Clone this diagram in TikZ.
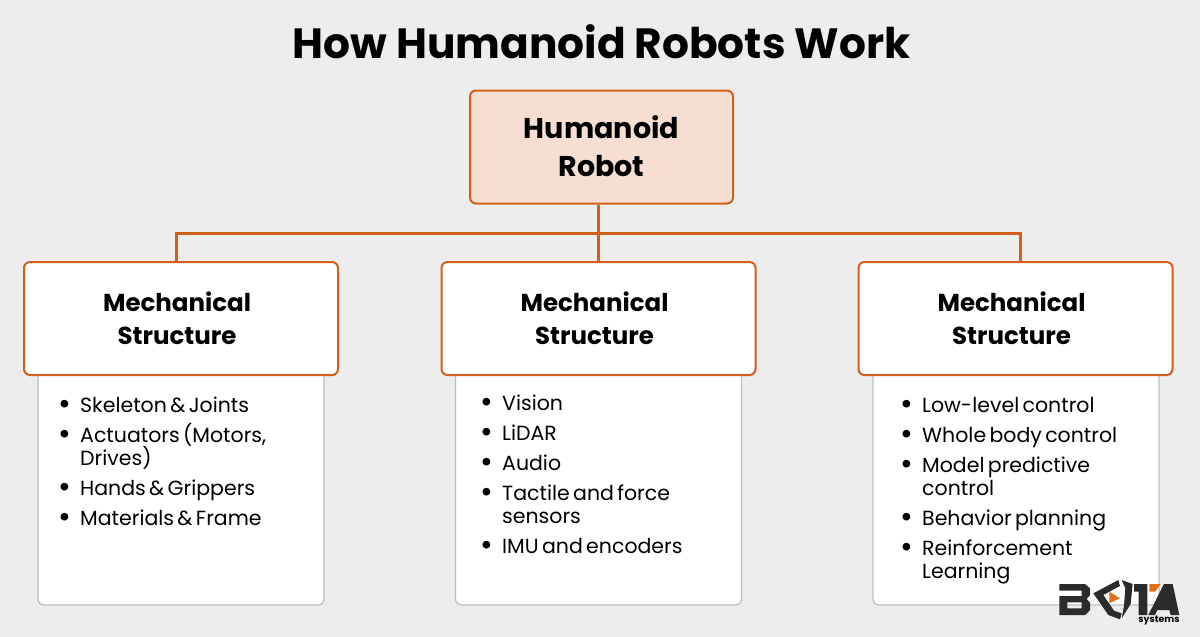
\documentclass[tikz,border=0pt]{standalone}
\usepackage{xcolor}
\usepackage{fontspec}
\setmainfont{Poppins}
\definecolor{pagegray}{HTML}{EDEDED}
\definecolor{rustline}{HTML}{D2601A}
\definecolor{rootfill}{HTML}{F6DFD2}
\definecolor{listline}{HTML}{BDBDBD}
\definecolor{logodark}{HTML}{2B2B2B}
\definecolor{logoorange}{HTML}{E2711D}
\renewcommand{\labelitemi}{\raisebox{-2.6pt}{\fontsize{31}{31}\selectfont\textbullet}}
\newcommand{\pointlist}[1]{%
  \setlength{\topsep}{0pt}\setlength{\partopsep}{0pt}%
  \begin{itemize}\setlength{\itemsep}{7pt}\setlength{\parsep}{0pt}\setlength{\parskip}{0pt}%
    \setlength{\labelsep}{9pt}\setlength{\itemindent}{0pt}\setlength{\leftmargin}{0pt}%
    \fontsize{20.5}{23}\selectfont #1
  \end{itemize}}
\newcommand{\twolines}[2]{\raisebox{0pt}[\dimexpr\height+6pt\relax][\depth]{\begin{tabular}{@{}c@{}}#1\\#2\end{tabular}}}
\tikzset{
  headbox/.style={draw=rustline, line width=2pt, rounded corners=6pt, fill=white, minimum width=314pt, minimum height=113pt, align=center, font=\fontsize{24.5}{33}\selectfont\bfseries, inner sep=0pt},
  rootbox/.style={headbox, fill=rootfill, minimum width=263pt, minimum height=113pt, font=\fontsize{28.6}{38.5}\selectfont\bfseries},
  listbox/.style={draw=listline, line width=1.2pt, rounded corners=6pt, fill=white, minimum width=286pt, minimum height=240pt},
  pointsnode/.style={anchor=north west, text width=250pt, inner sep=0pt, align=left},
  linkline/.style={draw=rustline, line width=3pt}
}
\begin{document}
\begin{tikzpicture}[x=1pt,y=-1pt]
  \useasboundingbox (0,0) rectangle (1200,637);
  \fill[pagegray] (0,0) rectangle (1200,637);

  % Title
  \node (title) at (601.5,42) {\fontsize{42.3}{48}\selectfont\bfseries How Humanoid Robots Work};

  % List cards sit behind the heads
  \node[listbox] (listA) at (181,485) {};
  \node[listbox] (listB) at (598.5,485) {};
  \node[listbox] (listC) at (1016,485) {};

  % Connector
  \coordinate (barA) at (176,233);
  \coordinate (barB) at (598,233);
  \coordinate (barC) at (1020,233);

  % Boxes
  \node[rootbox] (root) at (601.5,147) {\twolines{Humanoid}{Robot}};
  \node[headbox] (headA) at (181,318.5) {\hspace*{-8pt}\twolines{Mechanical}{Structure}};
  \node[headbox] (headB) at (598.5,318.5) {\hspace*{-8pt}\twolines{Mechanical}{Structure}};
  \node[headbox] (headC) at (1015.5,318.5) {\hspace*{-8pt}\twolines{Mechanical}{Structure}};

  \draw[linkline] (root.south -| barB) -- (barB |- headB.north);
  \draw[linkline] (barA |- headA.north) -- (barA) -- (barC) -- (barC |- headC.north);

  % Lists
  \node[pointsnode] (pointsA) at (55,381) {\pointlist{
    \item Skeleton \& Joints
    \item Actuators (Motors,\\Drives)
    \item Hands \& Grippers
    \item Materials \& Frame}};
  \node[pointsnode] (pointsB) at (477,379) {\pointlist{
    \item Vision
    \item LiDAR
    \item Audio
    \item Tactile and force\\sensors
    \item IMU and encoders}};
  \node[pointsnode] (pointsC) at (897,381) {\pointlist{
    \item Low-level control
    \item Whole body control
    \item Model predictive\\control
    \item Behavior planning
    \item Reinforcement\\Learning}};

  % Logo
  \begin{scope}[shift={(1040,560)},x=0.3333pt,y=-0.3333pt]
    \fill[logodark,even odd rule] (58,72) -- (135,72) -- (150,85) -- (150,105) -- (140,117) -- (150,128) -- (150,150) -- (135,165) -- (58,165) -- (58,108) -- (125,108) -- (125,92) -- (58,92) -- cycle (82,127) -- (125,127) -- (125,145) -- (82,145) -- cycle;
    \fill[logodark] (160,100) -- (235,60) -- (240,78) -- (190,105) -- (222,152) -- (245,160) -- (240,178) -- (205,165) -- cycle;
    \fill[logodark] (245,60) -- (278,72) -- (272,132) -- (245,175) -- (252,138) -- (256,85) -- cycle;
    \fill[logoorange] (208,95) -- (240,115) -- (208,130) -- cycle;
    \fill[logodark] (282,72) -- (322,72) -- (322,165) -- (296,165) -- (296,95) -- (282,95) -- cycle;
    \fill[logoorange] (328,72) -- (362,72) -- (346,95) -- (328,95) -- cycle;
    \fill[logodark] (325,165) -- (372,72) -- (398,72) -- (418,165) -- (392,165) -- (388,150) -- (352,150) -- (345,165) -- cycle;
  \end{scope}
  \node[inner sep=0pt, font=\fontsize{9.4}{11}\selectfont\bfseries] (logotext) at (1159,620) {systems};
\end{tikzpicture}
\end{document}
